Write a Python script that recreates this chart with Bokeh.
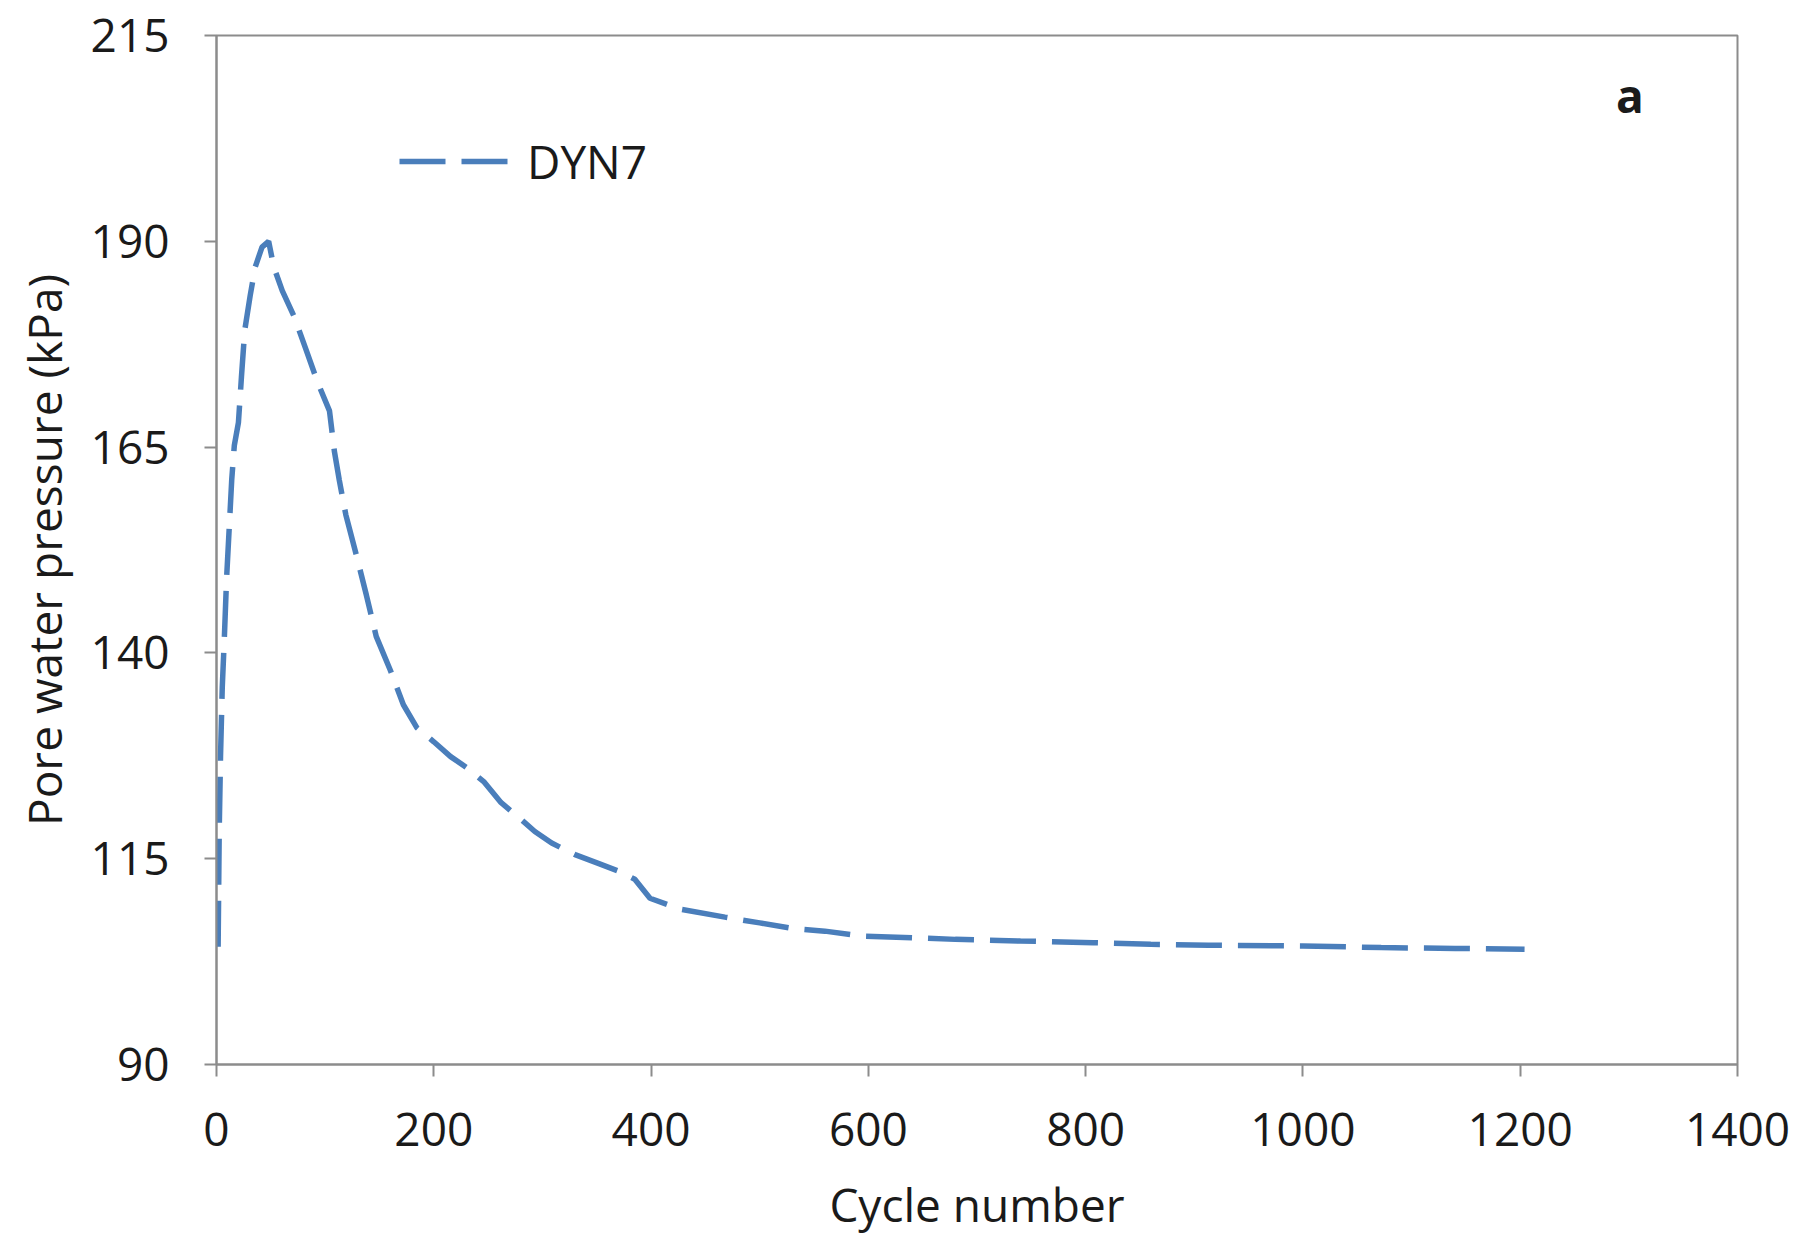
from bokeh.plotting import figure
from bokeh.models import Range1d, FixedTicker, Legend, LegendItem, Label, ColumnDataSource
from bokeh.embed import file_html
from bokeh.resources import INLINE

# Data
cycle = [1.5, 2.5, 3.7, 5.3, 7.1, 9.3, 11.8, 14, 16.4, 20.2, 23, 26, 31, 35.7, 41.9, 48,
         52.7, 60.5, 71.3, 82, 93, 104, 108.5, 113, 119, 128.7, 138, 147, 160, 172, 184.5,
         200, 215.5, 231, 246.5, 262, 277.5, 293, 308.5, 330, 352, 370, 385, 399, 426, 468,
         500, 532, 560, 595, 640, 680, 740, 807, 860, 913, 1000, 1072, 1140, 1204]
pwp = [104.3, 118.3, 127.4, 135.8, 141.4, 149.1, 155.4, 161, 165.2, 168, 173.6, 179.2,
       183.4, 186.9, 189.3, 190, 186.9, 184, 180.9, 177, 172.9, 169.4, 164.5, 161, 156.8,
       151.9, 147, 142, 137.9, 133.7, 130.9, 129.2, 127.4, 126, 124.3, 121.8, 120.1, 118.3,
       116.9, 115.5, 114.4, 113.5, 112.5, 110.2, 108.9, 107.9, 107.2, 106.5, 106.2, 105.6,
       105.4, 105.2, 105.0, 104.8, 104.6, 104.5, 104.4, 104.2, 104.1, 104.0]
series_name = "DYN7"
x_ticks = [0, 200, 400, 600, 800, 1000, 1200, 1400]
y_ticks = [90, 115, 140, 165, 190, 215]
panel_label = "a"

FONT = "Open Sans"
FS = "46px"
TXT = "#1a1a1a"
AX = "#8c8c8c"
BLUE = "#4A7EBB"

p = figure(width=1803, height=1243, output_backend="svg", toolbar_location=None,
           x_range=Range1d(0, 1400), y_range=Range1d(90, 215),
           min_border_left=216, min_border_right=66, min_border_top=35, min_border_bottom=179)
p.background_fill_color = "white"
p.border_fill_color = "white"
p.outline_line_color = AX
p.outline_line_width = 2
p.xgrid.visible = False
p.ygrid.visible = False

for ax in (p.xaxis[0], p.yaxis[0]):
    ax.axis_line_color = AX
    ax.axis_line_width = 2
    ax.major_tick_line_color = AX
    ax.major_tick_line_width = 2
    ax.major_tick_out = 12
    ax.major_tick_in = 0
    ax.minor_tick_line_color = None
    ax.major_label_text_font = FONT
    ax.major_label_text_font_size = FS
    ax.major_label_text_color = TXT
    ax.axis_label_text_font = FONT
    ax.axis_label_text_font_size = FS
    ax.axis_label_text_font_style = "normal"
    ax.axis_label_text_color = TXT

p.xaxis.ticker = FixedTicker(ticks=x_ticks)
p.yaxis.ticker = FixedTicker(ticks=y_ticks)
p.xaxis.axis_label = "Cycle number"
p.yaxis.axis_label = "Pore water pressure (kPa)"
p.xaxis.major_label_standoff = 36
p.xaxis.axis_label_standoff = 24
p.yaxis.major_label_standoff = 35
p.yaxis.axis_label_standoff = 13

src = ColumnDataSource(dict(x=cycle, y=pwp))
r = p.line("x", "y", source=src, line_color=BLUE, line_width=5.5, line_dash="46 16")

legend = Legend(items=[LegendItem(label=series_name, renderers=[r])],
                location=(183, 872), orientation="vertical")
legend.glyph_width = 118
legend.glyph_height = 50
legend.label_height = 50
legend.label_standoff = 10
legend.padding = 0
legend.margin = 0
legend.spacing = 0
legend.border_line_color = None
legend.background_fill_alpha = 0
legend.label_text_font = FONT
legend.label_text_font_size = FS
legend.label_text_color = TXT
p.add_layout(legend, "center")

p.add_layout(Label(x=1301, y=207.8, text=panel_label, text_font=FONT, text_font_size=FS,
                   text_font_style="bold", text_color=TXT, text_align="center",
                   text_baseline="middle"))

open("out.html", "w").write(file_html(p, INLINE))
